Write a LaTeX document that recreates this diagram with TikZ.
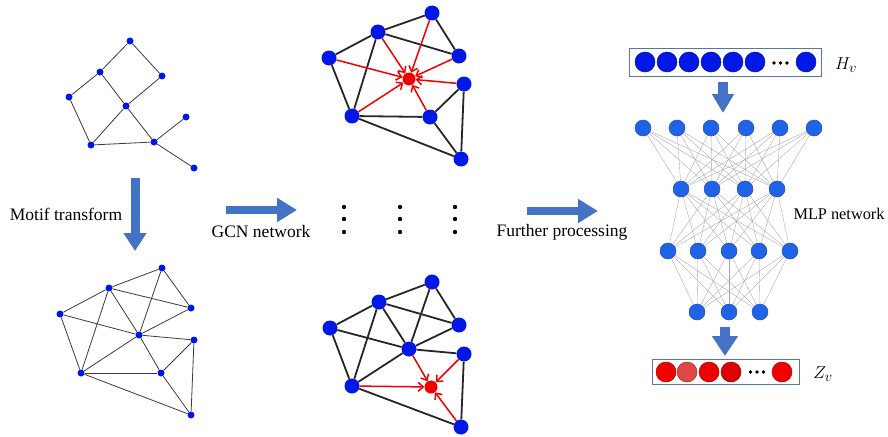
\documentclass[tikz,border=0pt]{standalone}
\usepackage{fontspec}
\setmainfont{Liberation Serif}
\usepackage{amsmath}
\usetikzlibrary{arrows.meta}
\definecolor{knblau}{HTML}{0018E6}
\definecolor{neuronblau}{HTML}{1F63E8}
\definecolor{neuronrand}{HTML}{2A4FA8}
\definecolor{pfeilblau}{HTML}{4472C4}
\definecolor{rahmen}{HTML}{5575B0}
\definecolor{kgrau}{HTML}{3A3A3A}
\definecolor{dunkel}{HTML}{262626}
\definecolor{rot}{HTML}{F20000}
\definecolor{rothell}{HTML}{E04848}
\definecolor{rotdunkel}{HTML}{DC0000}
\tikzset{
  kn/.style={circle,fill=knblau,inner sep=0pt,minimum size=7pt},
  knb/.style={circle,fill=knblau,inner sep=0pt,minimum size=15pt},
  knr/.style={circle,fill=rot,inner sep=0pt,minimum size=13pt},
  kante/.style={kgrau,line width=0.8pt},
  kanteb/.style={dunkel,line width=1.8pt},
  nachr/.style={-{Straight Barb[length=5pt,width=9pt]},rot,line width=1.5pt},
  neuron/.style={circle,fill=neuronblau,draw=neuronrand,line width=0.5pt,inner sep=0pt,minimum size=16pt},
  gewicht/.style={black!35,line width=0.35pt},
  blockpf/.style={-{Triangle[length=20pt,width=23pt]},pfeilblau,line width=8pt},
  vek/.style={circle,draw=#1!70!black,fill=#1,line width=0.5pt,inner sep=0pt,minimum size=20pt},
  txt/.style={font=\fontsize{17.5}{20}\selectfont},
}

\begin{document}
\begin{tikzpicture}[x=1pt,y=-1pt]
  \useasboundingbox (0,0) rectangle (888,436);
  % Ausgangsgraph
  \foreach \n/\x/\y in {1/130/41,2/100/72,3/162/76,4/69/97,5/126/106,6/186/117,7/91/145,8/154/142,9/194/168}
    \node[kn] (a\n) at (\x,\y) {};
  \foreach \u/\v in {1/2,1/3,2/4,2/5,3/5,4/7,5/7,5/8,7/8,8/6,8/9}
    \draw[kante] (a\u) -- (a\v);
  % Motiv-Graph
  \foreach \n/\x/\y in {1/162/268,2/109/288,3/191/308,4/60/314,5/139/335,6/194/340,7/81/373,8/161/373,9/191/415}
    \node[kn] (b\n) at (\x,\y) {};
  \foreach \u/\v in {2/1,1/3,2/3,2/4,2/5,2/7,1/5,3/5,4/5,4/7,5/6,5/7,5/8,7/8,6/8,6/9,8/9,7/9}
    \draw[kante] (b\u) -- (b\v);
  \coordinate (mtA) at (135,178);
  \coordinate (mtB) at (135,251);
  \draw[blockpf,line width=9pt,-{Triangle[length=18pt,width=22pt]}] (mtA) -- (mtB);
  \node[txt] (motif) at (66,214) {Motif transform};
  % GCN oben
  \foreach \n/\x/\y in {1/432/13,2/378/32,3/459/56,4/329/58,5/464/84,6/352/116,7/430/117,8/461/159}
    \node[knb] (c\n) at (\x,\y) {};
  \node[knr] (cz) at (409,79) {};
  \foreach \u/\v in {2/1,1/3,2/3,2/4,2/6,4/6,6/7,7/5,5/8,7/8,6/8}
    \draw[kanteb] (c\u) -- (c\v);
  \foreach \u in {1,...,7}
    \draw[nachr] (c\u) -- (cz);
  % GCN unten
  \foreach \n/\x/\y in {1/432/282,2/379/302,3/459/325,4/330/328,5/409/349,6/464/354,7/352/386,8/461/427}
    \node[knb] (d\n) at (\x,\y) {};
  \node[knr] (dz) at (431,387) {};
  \foreach \u/\v in {2/1,1/3,2/3,2/4,2/7,2/5,1/5,3/5,4/5,4/7,5/6,5/7,6/8,7/8}
    \draw[kanteb] (d\u) -- (d\v);
  \foreach \u in {5,6,7,8}
    \draw[nachr] (d\u) -- (dz);
  \coordinate (gcnA) at (226,210);
  \coordinate (gcnB) at (297,210);
  \draw[blockpf] (gcnA) -- (gcnB);
  \node[txt] (gcn) at (261,232) {GCN network};
  \foreach \x in {344,400,455}
    \foreach \y in {207,219,232}
      \fill (\x,\y) circle (2.2pt);
  \coordinate (fpA) at (527,211);
  \coordinate (fpB) at (598,211);
  \draw[blockpf] (fpA) -- (fpB);
  \node[txt] (fp) at (562,232) {Further processing};
  % MLP
  \foreach \x [count=\i] in {643,677,711,746,780,814}
    \node[neuron] (l1-\i) at (\x,128) {};
  \foreach \x [count=\i] in {681,712,745,777}
    \node[neuron] (l2-\i) at (\x,189) {};
  \foreach \x [count=\i] in {668,698,729,759,790}
    \node[neuron] (l3-\i) at (\x,251) {};
  \foreach \x [count=\i] in {697,729,760}
    \node[neuron] (l4-\i) at (\x,312) {};
  \foreach \i in {1,...,6} \foreach \j in {1,...,4} \draw[gewicht] (l1-\i) -- (l2-\j);
  \foreach \i in {1,...,4} \foreach \j in {1,...,5} \draw[gewicht] (l2-\i) -- (l3-\j);
  \foreach \i in {1,...,5} \foreach \j in {1,...,3} \draw[gewicht] (l3-\i) -- (l4-\j);
  \node[font=\fontsize{16.3}{19}\selectfont,inner sep=0pt] (mlp) at (839,214) {MLP network};
  % Eingangsvektor H_v
  \node[draw=rahmen,line width=1pt,fill=white,minimum width=192pt,minimum height=27pt,inner sep=0pt] (hbox) at (725,62.5) {};
  \foreach \x [count=\i] in {645,667,689,711,733,755,806}
    \node[vek=knblau] (h\i) at (\x,62) {};
  \foreach \x in {774,780.5,787}
    \fill (\x,63) circle (1.9pt);
  \node[font=\fontsize{19}{22}\selectfont] (hv) at (846,65) {$H_v$};
  \coordinate (hpA) at (723,82);
  \coordinate (hpB) at (723,113);
  \draw[blockpf,line width=10pt,-{Triangle[length=19pt,width=21pt]}] (hpA) -- (hpB);
  % Ausgangsvektor Z_v
  \node[draw=rahmen,line width=1pt,fill=white,minimum width=147pt,minimum height=25pt,inner sep=0pt] (zbox) at (725.5,371.5) {};
  \foreach \x/\f [count=\i] in {666/rot,687/rothell,709/rot,731/rotdunkel,782/rot}
    \node[vek=\f] (z\i) at (\x,372) {};
  \foreach \x in {750.5,757,763.5}
    \fill (\x,372) circle (1.9pt);
  \node[font=\fontsize{19}{22}\selectfont] (zv) at (823,374) {$Z_v$};
  \coordinate (zpA) at (725,327);
  \coordinate (zpB) at (725,356);
  \draw[blockpf,line width=10pt,-{Triangle[length=20pt,width=25pt]}] (zpA) -- (zpB);
\end{tikzpicture}
\end{document}
